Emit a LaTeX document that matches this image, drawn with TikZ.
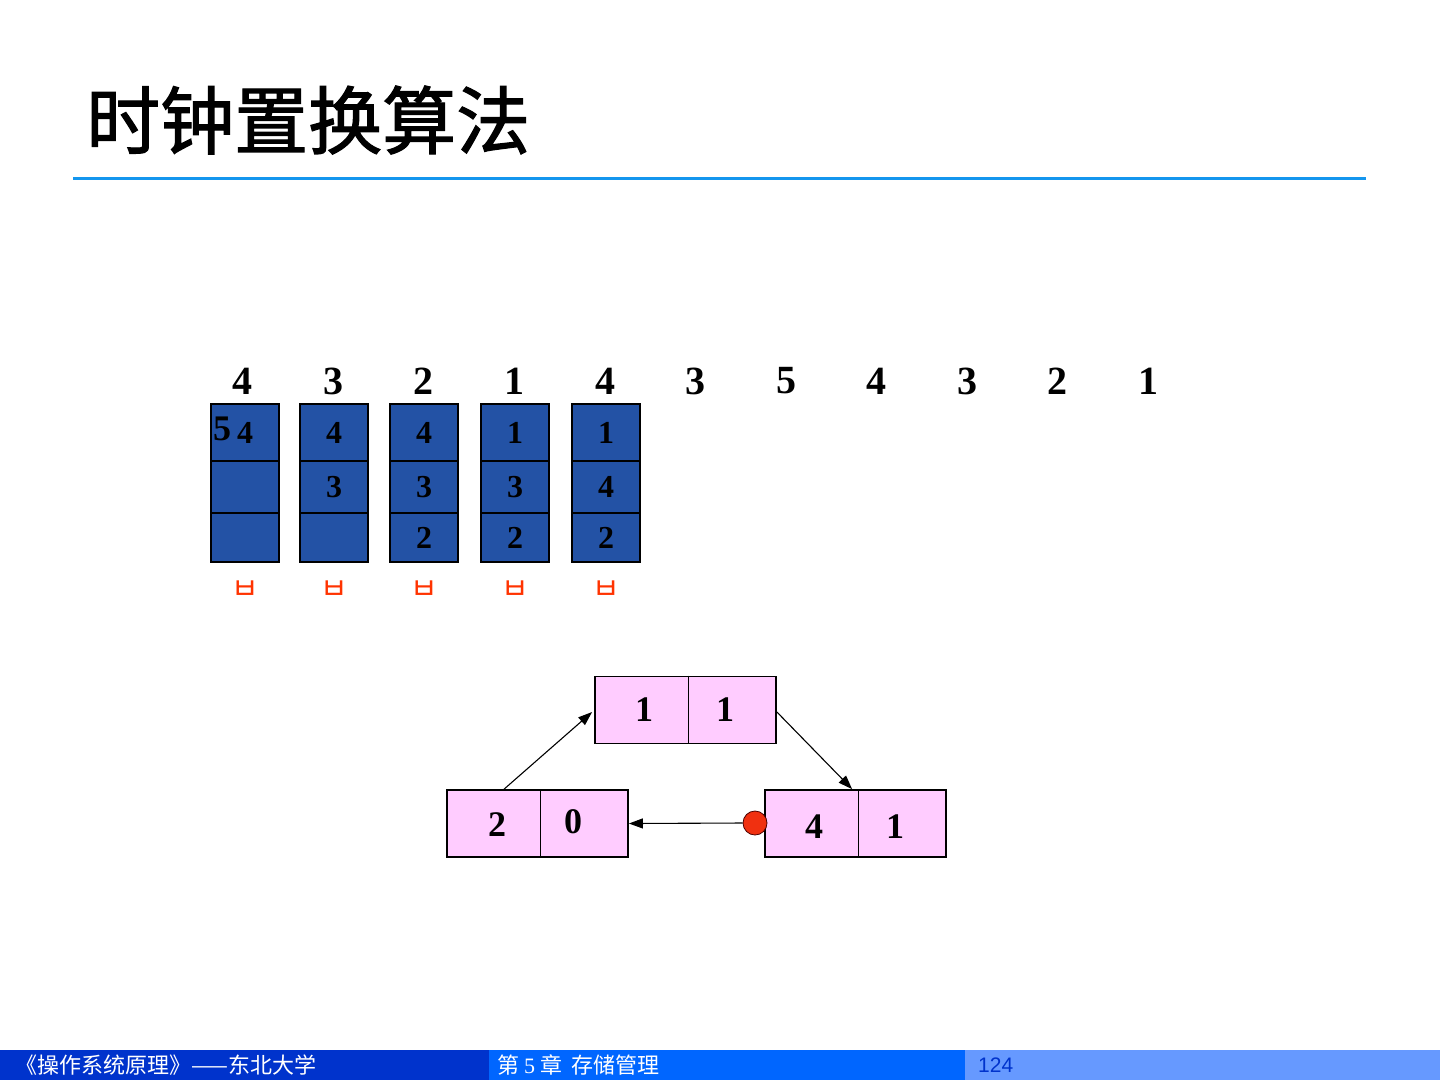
\documentclass[tikz,border=0pt]{standalone}
\usepackage{fontspec}
\setmainfont{Liberation Serif}
\setsansfont{Liberation Sans}
\newfontfamily\cjk{Noto Sans CJK SC}
\newfontfamily\cjktitle[FakeBold=1.6]{Noto Sans CJK SC}
\newfontfamily\kor{Noto Sans CJK KR}
\usetikzlibrary{arrows.meta,calc}
\definecolor{cellblue}{HTML}{2352A5}
\definecolor{pinkbox}{HTML}{FFCCFF}
\definecolor{rulebl}{HTML}{1496EE}
\definecolor{footA}{HTML}{0033CC}
\definecolor{footB}{HTML}{0066FF}
\definecolor{footC}{HTML}{6699FF}
\definecolor{redmark}{HTML}{FF3300}
\definecolor{dotred}{HTML}{F03010}
\tikzset{
  seqnum/.style={font=\fontsize{40}{44}\selectfont\bfseries, inner sep=0},
  cell/.style={draw=black, line width=1.5pt, fill=cellblue, minimum width=68pt, inner sep=0,
    font=\fontsize{32}{36}\selectfont\bfseries},
  fault/.style={text=redmark, font=\kor\fontsize{30}{32}\selectfont, inner sep=0},
  pbox/.style={draw=black, line width=1.8pt, fill=pinkbox, minimum width=181pt, minimum height=67pt, inner sep=0},
  pnum/.style={font=\fontsize{36}{40}\selectfont\bfseries, inner sep=0},
  divider/.style={line width=1.2pt},
  link/.style={line width=1.1pt, -{Triangle[length=14pt,width=10pt]}},
  foot/.style={text=white, font=\cjk\fontsize{22}{24}\selectfont, inner sep=0, anchor=west}
}
\begin{document}
\begin{tikzpicture}[x=1pt,y=-1pt]
\useasboundingbox (0,0) rectangle (1440,1080);
\fill[white] (0,0) rectangle (1440,1080);

% title
\node[anchor=west, inner sep=0, font=\cjktitle\fontsize{74}{78}\selectfont] (title) at (86,120) {时钟置换算法};
\draw[rulebl, line width=3pt] (73,178) -- (1366,178);

% reference string
\foreach \v/\x [count=\i] in {4/242,3/333,2/423,1/514,4/605,3/695,5/786,4/876,3/967,2/1057,1/1148}
  \node[seqnum] (s\i) at (\x,381) {\v};

% frame columns
\foreach \c/\x/\a/\b/\d in {1/245/4//,2/334/4/3/,3/424/4/3/2,4/515/1/3/2,5/606/1/4/2} {
  \node[cell, minimum height=57pt] (c\c a) at (\x,432.5) {\a};
  \node[cell, minimum height=52pt] (c\c b) at (\x,487) {\b};
  \node[cell, minimum height=49pt] (c\c c) at (\x,537.5) {\d};
  \node[fault] (f\c) at (\x,590) {ㅂ};
}
\node[inner sep=0, text=black, font=\bfseries\fontsize{36}{40}\selectfont] (five) at (222,429) {5};

% clock diagram
\node[pbox] (tbox) at (685.5,710) {};
\node[pbox] (lbox) at (537.5,823.5) {};
\node[pbox] (rbox) at (855.5,823.5) {};
\draw[divider] ($(tbox.north west)+(94,0)$) -- ($(tbox.south west)+(94,0)$);
\draw[divider] ($(lbox.north west)+(94,0)$) -- ($(lbox.south west)+(94,0)$);
\draw[divider] ($(rbox.north west)+(94,0)$) -- ($(rbox.south west)+(94,0)$);
\node[pnum] (t1) at (644,710) {1};
\node[pnum] (t2) at (725,710) {1};
\node[pnum] (l1) at (497,825) {2};
\node[pnum] (l2) at (573,822) {0};
\node[pnum] (r1) at (814,827) {4};
\node[pnum] (r2) at (895,827) {1};

\node[circle, draw=black!70!red, line width=0.8pt, fill=dotred, minimum size=24pt, inner sep=0] (dot) at (755,823) {};

\coordinate (lup) at ($(lbox.north west)+(58,0)$);
\coordinate (rdown) at ($(rbox.north west)+(88,0)$);
\draw[link] (lup) -- ($(tbox.west)+(-2,2)$);
\draw[link] ($(tbox.east)+(0,2)$) -- (rdown);
\draw[link] (dot.west) -- (lbox.east);

% footer
\fill[footA] (0,1050) rectangle (483,1080);
\fill[footB] (483,1050) rectangle (965,1080);
\fill[footA] (483,1050) rectangle (489,1080);
\fill[footC] (965,1050) rectangle (1440,1080);
\node[foot] (ft1) at (15,1065) {《操作系统原理》——东北大学};
\node[foot] (ft2) at (497,1065) {第 {\rmfamily 5} 章\ \ 存储管理};
\node[foot, text=footA, font=\sffamily\fontsize{21}{22}\selectfont] (ft3) at (978,1065) {124};
\end{tikzpicture}
\end{document}
